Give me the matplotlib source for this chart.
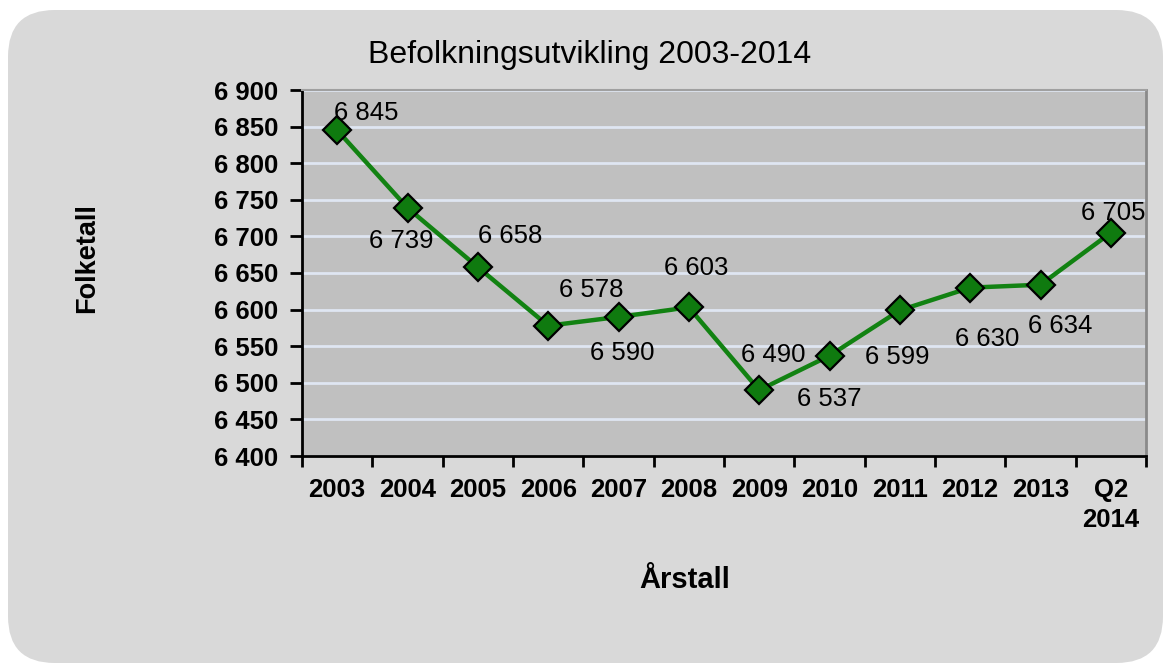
import matplotlib
matplotlib.use('Agg')
import matplotlib.pyplot as plt
from matplotlib.patches import FancyBboxPatch
from matplotlib.ticker import FixedLocator, FuncFormatter

years = ['2003', '2004', '2005', '2006', '2007', '2008', '2009', '2010',
         '2011', '2012', '2013', 'Q2\n2014']
folketall = [6845, 6739, 6658, 6578, 6590, 6603, 6490, 6537, 6599, 6630, 6634, 6705]
# label offsets in pixels (dx, dy to baseline) relative to each point
label_offsets = [(29.5, 10), (-6.5, -40), (32.5, 24), (43, 29), (3.5, -43), (7.5, 32),
                 (14, 28), (0, -50), (-3, -54), (17, -58), (20, -48), (2.5, 13)]

plt.rcParams['font.family'] = ['Liberation Sans', 'DejaVu Sans']

W, H = 1167, 664
fig = plt.figure(figsize=(W / 100.0, H / 100.0), dpi=100)
fig.patch.set_facecolor('white')

# rounded grey background box
box = FancyBboxPatch((8.0 / W, 1.0 - 663.0 / H), 1155.0 / W, 653.0 / H,
                     boxstyle='round,pad=0,rounding_size=0.04',
                     transform=fig.transFigure, facecolor='#d9d9d9',
                     edgecolor='none', mutation_aspect=W / float(H), zorder=-5)
fig.patches.append(box)

ax = fig.add_axes([302.0 / W, 1 - 456.0 / H, 844.0 / W, 366.0 / H])
ax.set_facecolor('#c0c0c0')

x = list(range(len(years)))
ax.plot(x, folketall, color='#128212', linewidth=3.2, marker='D', markersize=14,
        markerfacecolor='#0f7a0f', markeredgecolor='black', markeredgewidth=1.6,
        zorder=3, clip_on=False)

for i, v in enumerate(folketall):
    s = '{:,}'.format(v).replace(',', ' ')
    dx, dy = label_offsets[i]
    ax.annotate(s, (x[i], v), xytext=(dx, dy), textcoords='offset pixels',
                ha='center', va='baseline', fontsize=18.5, color='black', zorder=4)

ax.set_xlim(-0.5, len(years) - 0.5)
ax.set_ylim(6400, 6900)
ax.set_yticks(range(6400, 6901, 50))
ax.yaxis.set_major_formatter(FuncFormatter(lambda v, p: '{:,}'.format(int(v)).replace(',', ' ')))
ax.grid(axis='y', color='#dfe6f2', linewidth=2, zorder=1)
ax.set_axisbelow(True)

ax.set_xticks(x)
ax.set_xticklabels(years, fontweight='bold', fontsize=18.5, linespacing=1.3)
ax.xaxis.set_minor_locator(FixedLocator([i - 0.5 for i in range(len(years) + 1)]))
ax.tick_params(axis='x', which='major', length=0, pad=16)
ax.tick_params(axis='x', which='minor', length=8, width=2, direction='out')
ax.tick_params(axis='y', length=9, width=2, direction='out', pad=8)
for lab in ax.get_yticklabels():
    lab.set_fontweight('bold')
    lab.set_fontsize(18.5)

ax.spines['left'].set_linewidth(2)
ax.spines['bottom'].set_linewidth(2)
ax.spines['top'].set_color('#a0a0a0')
ax.spines['top'].set_linewidth(1.5)
ax.spines['right'].set_color('#8a8a8a')
ax.spines['right'].set_linewidth(2)

fig.text(590.0 / W, 1 - 55.0 / H, 'Befolkningsutvikling 2003-2014', ha='center',
         va='center', fontsize=23)
fig.text(87.0 / W, 1 - 258.0 / H, 'Folketall', ha='center', va='center',
         rotation=90, fontsize=19.5, fontweight='bold')
fig.text(685.0 / W, 1 - 580.0 / H, 'Årstall', ha='center', va='center',
         fontsize=21, fontweight='bold')

fig.savefig('out.png', dpi=100, facecolor=fig.get_facecolor())
plt.close(fig)
